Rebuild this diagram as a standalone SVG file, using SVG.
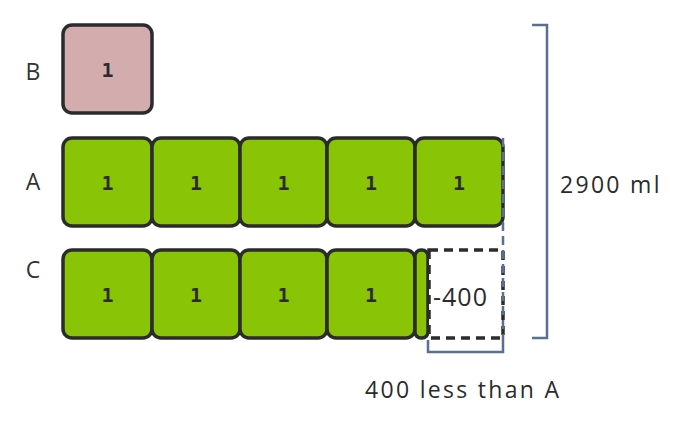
<svg xmlns="http://www.w3.org/2000/svg" width="691" height="428" viewBox="0 0 691 428">
<style>
.box{stroke:#2b2b2b;stroke-width:3.5}
.g{fill:#8ac406}
.p{fill:#d3adad}
.one{font-family:"DejaVu Sans Mono","Liberation Mono",monospace;font-weight:bold;font-size:20px;fill:#2b2b2b;text-anchor:middle}
.lbl{font-family:"Open Sans","Liberation Sans",sans-serif;font-size:23px;fill:#333;text-anchor:middle}
.txt{font-family:"Open Sans","Liberation Sans",sans-serif;font-size:23px;fill:#2b2b2b;font-weight:500;letter-spacing:2.3px}
.br{fill:none;stroke:#5a6f91;stroke-width:2.5}
</style>
<g id="labels">
<text class="lbl" x="33" y="80">B</text>
<text class="lbl" x="33" y="190">A</text>
<text class="lbl" x="33" y="278">C</text>
</g>
<g id="B1"><rect class="box p" x="63" y="25" width="89" height="88" rx="9"/><text class="one" x="107.5" y="77">1</text></g>
<g id="A1"><rect class="box g" x="63" y="138" width="89" height="88" rx="9"/><text class="one" x="107.5" y="190">1</text></g>
<g id="A2"><rect class="box g" x="152" y="138" width="88" height="88" rx="9"/><text class="one" x="196" y="190">1</text></g>
<g id="A3"><rect class="box g" x="240" y="138" width="87" height="88" rx="9"/><text class="one" x="283.5" y="190">1</text></g>
<g id="A4"><rect class="box g" x="327" y="138" width="88" height="88" rx="9"/><text class="one" x="371" y="190">1</text></g>
<g id="A5"><rect class="box g" x="415" y="138" width="88" height="88" rx="9"/><text class="one" x="459" y="190">1</text></g>
<g id="C1"><rect class="box g" x="63" y="250" width="89" height="88" rx="9"/><text class="one" x="107.5" y="302">1</text></g>
<g id="C2"><rect class="box g" x="152" y="250" width="88" height="88" rx="9"/><text class="one" x="196" y="302">1</text></g>
<g id="C3"><rect class="box g" x="240" y="250" width="87" height="88" rx="9"/><text class="one" x="283.5" y="302">1</text></g>
<g id="C4"><rect class="box g" x="327" y="250" width="88" height="88" rx="9"/><text class="one" x="371" y="302">1</text></g>
<g id="C5"><rect class="box g" x="415" y="250" width="13" height="88" rx="6"/></g>
<g id="Cminus"><rect x="429" y="250" width="74" height="88" fill="#fff" stroke="#2b2b2b" stroke-width="3.5" stroke-dasharray="9,6"/><text class="txt" x="433" y="306" style="font-size:25px;letter-spacing:1px">-400</text></g>
<g id="connectors">
<path class="br" d="M503 138 V340" stroke-dasharray="9,5"/>
<path class="br" d="M428 340 V352 H503 V340"/>
<path class="br" d="M532 25 H547 V338 H532"/>
</g>
<g id="notes">
<text class="txt" x="560" y="193">2900 ml</text>
<text class="txt" x="365" y="398">400 less than A</text>
</g>
</svg>
